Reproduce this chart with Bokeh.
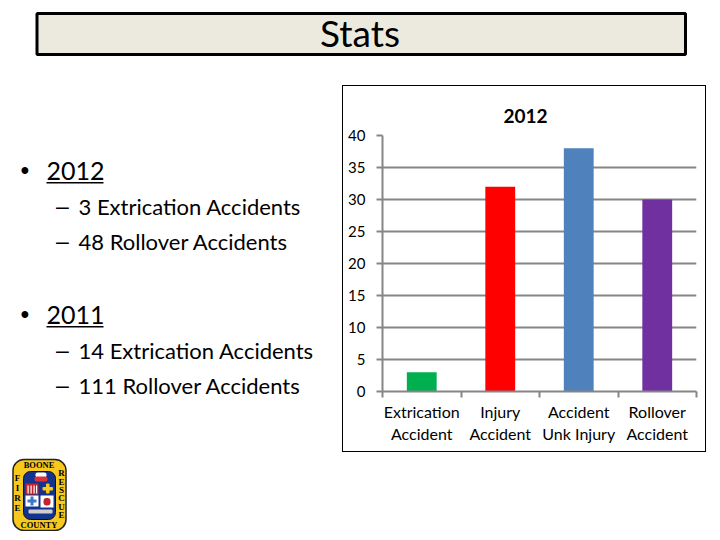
from bokeh.plotting import figure
from bokeh.embed import file_html
from bokeh.resources import INLINE
from bokeh.layouts import column, row
from bokeh.models import Label, BoxAnnotation, FixedTicker, Range1d

title_text = "Stats"
chart_title = "2012"
categories = ["Extrication\nAccident", "Injury\nAccident", "Accident\nUnk Injury", "Rollover\nAccident"]
values = [3, 32, 38, 30]
colors = ["#00B050", "#FF0000", "#4F81BD", "#7030A0"]
y_ticks = [0, 5, 10, 15, 20, 25, 30, 35, 40]
bullets = [("•", "2012", 1), ("–", "3 Extrication Accidents", 2), ("–", "48 Rollover Accidents", 2),
           ("•", "2011", 1), ("–", "14 Extrication Accidents", 2), ("–", "111 Rollover Accidents", 2)]
bullet_y = [171, 207, 242, 315, 351, 386]

FONT = "Lato"
SERIF = "Liberation Serif"
MARK = "Liberation Sans"
W = 712
TOP_H = 85
LEFT_W = 342
FL, FR, FT, FB = 382, 696, 135, 391
CH_W, CH_H = 364, 367
LEFT_TOP = 135
LEFT_H = 397
LEFT_BORDER = 49

ORIGINS = {}


def make(x0, y0, w, h, border_top=0):
    f = figure(frame_width=w, frame_height=h, output_backend="svg", toolbar_location=None,
               x_range=Range1d(0, 1), y_range=Range1d(0, 1), x_axis_type=None, y_axis_type=None,
               min_border=0, min_border_left=0, min_border_right=0, min_border_top=border_top, min_border_bottom=0,
               outline_line_color=None, background_fill_color="white", border_fill_color="white")
    f.grid.visible = False
    ORIGINS[f.id] = (x0, y0, h)
    return f


def box(f, l, t, r, b, fill, line=None, lw=1, radius=0):
    x0, y0, h = ORIGINS[f.id]
    f.add_layout(BoxAnnotation(left=l - x0, right=r - x0, top=y0 + h - t, bottom=y0 + h - b,
                               left_units="screen", right_units="screen", top_units="screen", bottom_units="screen",
                               fill_color=fill, fill_alpha=1, line_color=line, line_width=lw, line_alpha=1,
                               border_radius=radius, editable=False))


def label(f, x, y, text, size, align="left", style="normal", font=FONT):
    x0, y0, h = ORIGINS[f.id]
    f.add_layout(Label(x=x - x0, y=y0 + h - y, x_units="screen", y_units="screen", text=text,
                       text_font=font, text_font_size=f"{size}px", text_color="#000000",
                       text_align=align, text_baseline="middle", text_font_style=style))


head = make(0, 0, W, TOP_H)
box(head, 36.5, 13, 685, 54, "#ECEADF", "#000000", 3)
label(head, 359.5, 31.5, title_text, 37, align="center")

left = make(0, LEFT_TOP, LEFT_W, LEFT_H, border_top=LEFT_BORDER)
for (mark, txt, lvl), y in zip(bullets, bullet_y):
    if lvl == 1:
        label(left, 20, y - 1, mark, 25, font=MARK)
        label(left, 46, y, txt, 25)
        box(left, 46, y + 11.5, 103, y + 13, "#000000")
    else:
        label(left, 55.5, y - 1, mark, 23, font=MARK)
        label(left, 78, y, txt, 22)

# badge
box(left, 12.5, 460, 65.5, 531, "#F7C81E", "#222222", 1.5, radius=11)
box(left, 23, 472, 55, 520, "#14338F", "#111111", 1, radius=7)
label(left, 38.5, 465.5, "BOONE", 8.5, align="center", font=SERIF, style="bold")
label(left, 38.5, 525, "COUNTY", 8.5, align="center", font=SERIF, style="bold")
for t, y in zip("FIRE", [478, 488, 498, 508]):
    label(left, 17, y, t, 9, align="center", font=SERIF, style="bold")
for t, y in zip("RESCUE", [473, 482, 490, 498, 507, 515]):
    label(left, 61, y, t, 9, align="center", font=SERIF, style="bold")
box(left, 35, 473, 46, 478, "#FFFFFF", radius=2)
box(left, 34, 477, 47, 482, "#D9333A", radius=2)
box(left, 25, 484, 38, 495, "#C0272D")
for bx in [27, 30, 33, 35.5]:
    box(left, bx, 486, bx + 1.2, 494, "#FFFFFF")
box(left, 45.5, 484, 49, 494, "#F7C81E", radius=1)
box(left, 42, 487.5, 52.5, 491, "#F7C81E", radius=1)
box(left, 25, 496, 38, 507, "#FFFFFF")
box(left, 30, 497, 33, 506, "#3F78C8")
box(left, 27, 500, 36, 503, "#3F78C8")
box(left, 40, 496, 53, 508, "#FFFFFF")
box(left, 43, 498.5, 50, 506, "#C0272D", radius=3)
box(left, 28, 510, 52, 514, "#CFCFCF", radius=1)

p = figure(width=CH_W, height=CH_H, output_backend="svg", toolbar_location=None,
           x_range=Range1d(0, 4), y_range=Range1d(0, 40),
           min_border_left=FL - LEFT_W - 1, min_border_right=LEFT_W + CH_W - FR + 1,
           min_border_top=FT - TOP_H - 1, min_border_bottom=TOP_H + CH_H - FB + 1,
           outline_line_color=None, background_fill_color="white", border_fill_color="white",
           title=chart_title, title_location="above",
           styles={"border": "1px solid #000000", "box-sizing": "border-box"})
p.title.text_font = FONT
p.title.text_font_size = "19px"
p.title.text_font_style = "bold"
p.title.text_color = "#000000"
p.title.align = "left"
p.title.vertical_align = "top"
p.title.offset = 121
p.title.standoff = 22

p.yaxis.ticker = FixedTicker(ticks=y_ticks)
p.yaxis.axis_line_color = "#868686"
p.yaxis.axis_line_width = 2
p.yaxis.major_tick_line_color = "#868686"
p.yaxis.major_tick_line_width = 2
p.yaxis.major_tick_out = 6
p.yaxis.major_tick_in = 0
p.yaxis.minor_tick_line_color = None
p.yaxis.major_label_text_font = FONT
p.yaxis.major_label_text_font_size = "15px"
p.yaxis.major_label_text_color = "#000000"
p.yaxis.major_label_standoff = 11

p.xaxis.ticker = FixedTicker(ticks=[0.5, 1.5, 2.5, 3.5], minor_ticks=[0, 1, 2, 3, 4])
p.xaxis.major_label_overrides = {0.5: categories[0], 1.5: categories[1], 2.5: categories[2], 3.5: categories[3]}
p.xaxis.axis_line_color = "#868686"
p.xaxis.axis_line_width = 2
p.xaxis.major_tick_line_color = None
p.xaxis.minor_tick_line_color = "#868686"
p.xaxis.minor_tick_line_width = 2
p.xaxis.minor_tick_out = 6
p.xaxis.minor_tick_in = 0
p.xaxis.major_label_text_font = FONT
p.xaxis.major_label_text_font_size = "16px"
p.xaxis.major_label_text_color = "#000000"
p.xaxis.major_label_standoff = 4

p.xgrid.visible = False
p.ygrid.ticker = FixedTicker(ticks=y_ticks)
p.ygrid.grid_line_color = "#868686"
p.ygrid.grid_line_width = 2

xs = [0.5, 1.5, 2.5, 3.5]
p.vbar(x=xs, top=values, bottom=0, width=0.38, fill_color=colors, line_color=None)

page = column(head, row(left, p, spacing=0), spacing=0)
open("out.html", "w").write(file_html(page, INLINE))
